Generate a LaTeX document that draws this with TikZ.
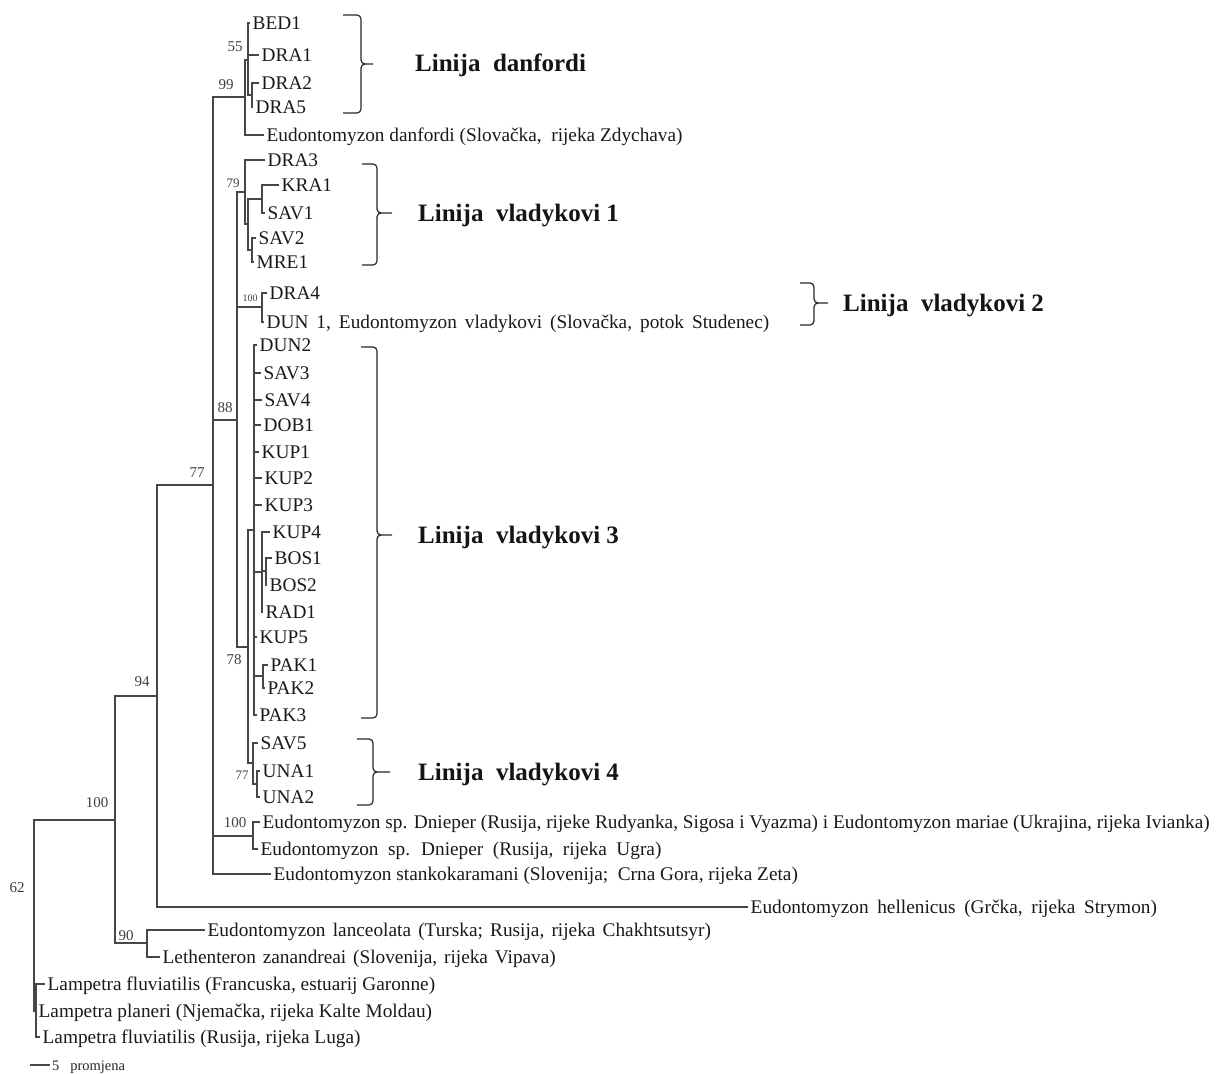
\documentclass[tikz,border=0pt]{standalone}
\usepackage{fontspec}
\setmainfont{Liberation Serif}

\tikzset{
  branch/.style={draw=black!72, line width=1.15pt},
  leaf/.style={anchor=west, inner xsep=2.5pt, inner ysep=0pt, text height=13pt,
    text depth=0pt, text=black!90, font=\fontsize{19.3}{20}\selectfont},
  wide/.style={execute at begin node={\spaceskip=#1\relax}},
  boot/.style={inner sep=0pt, text=black!75, font=\fontsize{15}{15}\selectfont},
  lineage/.style={anchor=west, inner sep=0pt, text height=17pt, text depth=0pt,
    text=black!92, font=\fontsize{25}{25}\selectfont\bfseries},
  linbrace/.style={draw=black!85, line width=1.2pt, rounded corners=4pt}
}

\begin{document}
\begin{tikzpicture}[x=1pt, y=-1pt]
  \useasboundingbox (0,0) rectangle (1217,1073);

  % inner nodes of the tree
  \coordinate (n55)   at (248,60);
  \coordinate (nd25)  at (252,95);
  \coordinate (n99)   at (245,97);
  \coordinate (nks)   at (262,199);
  \coordinate (nsm)   at (252,250);
  \coordinate (ni)    at (248,224);
  \coordinate (n79)   at (245,192);
  \coordinate (n100b) at (262,307);
  \coordinate (nb)    at (266,571);
  \coordinate (na)    at (262,572);
  \coordinate (np)    at (263,676);
  \coordinate (npoly) at (254,530);
  \coordinate (nu)    at (257,784);
  \coordinate (n77b)  at (253,763);
  \coordinate (n78)   at (248,647);
  \coordinate (n88)   at (237,420);
  \coordinate (n100c) at (253,836);
  \coordinate (n77a)  at (213,485);
  \coordinate (n94)   at (157,696);
  \coordinate (n90)   at (147,943);
  \coordinate (n100a) at (115,820);
  \coordinate (n62)   at (36,1011);
  \coordinate (root)  at (34,905);

  % short leaves
  \foreach \n/\x/\y/\t in {bed1/250/23/BED1, dra1/259/55/DRA1, dra2/259/83/DRA2, dra5/253/107/DRA5,
      dra3/265/160/DRA3, kra1/279/185/KRA1, sav1/265/213/SAV1, sav2/256/238/SAV2, mre1/254/262/MRE1,
      dra4/267/293/DRA4, dun2/257/345/DUN2, sav3/261/373/SAV3, sav4/262/400/SAV4, dob1/261/425/DOB1,
      kup1/259/452/KUP1, kup2/262/478/KUP2, kup3/262/505/KUP3, kup4/270/532/KUP4, bos1/272/558/BOS1,
      bos2/267/585/BOS2, rad1/263/612/RAD1, kup5/257/637/KUP5, pak1/268/665/PAK1, pak2/265/688/PAK2,
      pak3/257/715/PAK3, sav5/258/743/SAV5, una1/260/771/UNA1, una2/260/797/UNA2}
    \node[leaf] (\n) at (\x,\y) {\t};

  % long leaves
  \node[leaf] (danf) at (264,135) {Eudontomyzon danfordi (Slovačka,\ \ rijeka Zdychava)};
  \node[leaf, wide=8pt] (dun1) at (264,322) {DUN 1, Eudontomyzon vladykovi (Slovačka,\ potok Studenec)};
  \node[leaf] (dnp1) at (260,822) {Eudontomyzon sp. Dnieper (Rusija, rijeke Rudyanka, Sigosa i Vyazma) i Eudontomyzon mariae (Ukrajina, rijeka Ivianka)};
  \node[leaf, wide=9.5pt] (dnp2) at (258,849) {Eudontomyzon sp. Dnieper (Rusija, rijeka Ugra)};
  \node[leaf] (stan) at (271,874) {Eudontomyzon stankokaramani (Slovenija;\ \ Crna Gora, rijeka Zeta)};
  \node[leaf, wide=8.7pt] (hell) at (748,907) {Eudontomyzon hellenicus (Grčka, rijeka Strymon)};
  \node[leaf, wide=7.2pt] (lanc) at (205,930) {Eudontomyzon lanceolata (Turska; Rusija, rijeka Chakhtsutsyr)};
  \node[leaf, wide=6.8pt] (leth) at (160,957) {Lethenteron zanandreai (Slovenija, rijeka Vipava)};
  \node[leaf] (lfr)  at (45,984)  {Lampetra fluviatilis (Francuska, estuarij Garonne)};
  \node[leaf] (lpl)  at (36,1011) {Lampetra planeri (Njemačka, rijeka Kalte Moldau)};
  \node[leaf] (lru)  at (40,1037) {Lampetra fluviatilis (Rusija, rijeka Luga)};

  % branches, parent to child
  \foreach \p/\c in {n55/bed1.west, n55/dra1.west, n55/nd25, nd25/dra2.west, nd25/dra5.west,
      n99/n55, n99/danf.west, nks/kra1.west, nks/sav1.west, nsm/sav2.west, nsm/mre1.west,
      ni/nks, ni/nsm, n79/dra3.west, n79/ni, n100b/dra4.west, n100b/dun1.west,
      nb/bos1.west, nb/bos2.west, na/kup4.west, na/nb, na/rad1.west, np/pak1.west, np/pak2.west,
      npoly/dun2.west, npoly/sav3.west, npoly/sav4.west, npoly/dob1.west, npoly/kup1.west,
      npoly/kup2.west, npoly/kup3.west, npoly/na, npoly/kup5.west, npoly/np, npoly/pak3.west,
      nu/una1.west, nu/una2.west, n77b/sav5.west, n77b/nu, n78/npoly, n78/n77b,
      n88/n79, n88/n100b, n88/n78, n100c/dnp1.west, n100c/dnp2.west,
      n77a/n99, n77a/n88, n77a/n100c, n77a/stan.west, n94/n77a, n94/hell.west,
      n90/lanc.west, n90/leth.west, n100a/n94, n100a/n90,
      n62/lfr.west, n62/lpl.west, n62/lru.west, root/n100a, root/n62}
    \draw[branch] (\p) |- (\c);

  % bootstrap values
  \foreach \n/\x/\y/\t in {b55/235/47/55, b99/226/85/99, b88/225/408/88, b77a/197/473/77,
      b78/234/660/78, b100c/235/823/100, b94/142/682/94, b100a/97/803/100, b90/126/936/90, b62/17/888/62}
    \node[boot] (\n) at (\x,\y) {\t};
  \node[boot, font=\fontsize{13}{13}\selectfont] (b79) at (233,183) {79};
  \node[boot, font=\fontsize{13}{13}\selectfont] (b77b) at (242,775) {77};
  \node[boot, font=\fontsize{10}{10}\selectfont] (b100b) at (250,298) {100};

  % lineages and their braces: end x / spine x / tip x / top / middle / bottom
  \node[lineage] (lin1) at (415,63)  {Linija\ \ danfordi};
  \node[lineage] (lin2) at (418,213) {Linija\ \ vladykovi 1};
  \node[lineage] (lin3) at (843,303) {Linija\ \ vladykovi 2};
  \node[lineage] (lin4) at (418,535) {Linija\ \ vladykovi 3};
  \node[lineage] (lin5) at (418,772) {Linija\ \ vladykovi 4};
  \foreach \a/\v/\p/\t/\m/\b in {343/361/373/15/64/113, 362/377/392/164/213/265,
      800/814/828/283/303/325, 361/377/392/347/535/718, 357/373/390/739/772/805}
    \draw[linbrace] (\a,\t) -- (\v,\t) -- (\v,\m) -- (\p,\m)
                    (\a,\b) -- (\v,\b) -- (\v,\m) -- (\p,\m);

  % scale bar
  \coordinate (sb0) at (30,1065);
  \coordinate (sb1) at (50,1065);
  \node[anchor=west, inner sep=0pt, text height=10pt, text depth=0pt, text=black!85,
    font=\fontsize{14.5}{15}\selectfont] (sbtext) at (52,1065) {5\ \ \ promjena};
  \draw[branch, line width=1.4pt] (sb0) -- (sb1);
\end{tikzpicture}
\end{document}
